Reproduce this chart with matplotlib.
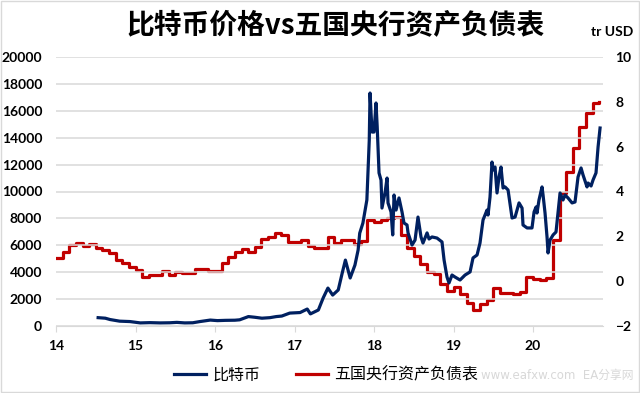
import matplotlib.pyplot as plt
from matplotlib.patches import Rectangle

plt.rcParams['font.family'] = ['Lato', 'Noto Sans CJK SC', 'DejaVu Sans']

# Bitcoin price (USD), x in decimal years
btc_x = [2014.53, 2014.62, 2014.68, 2014.80, 2014.93, 2015.06, 2015.18, 2015.31, 2015.43, 2015.52,
         2015.62, 2015.72, 2015.81, 2015.94, 2016.03, 2016.13, 2016.25, 2016.31, 2016.42, 2016.50,
         2016.59, 2016.69, 2016.77, 2016.84, 2016.91, 2016.94, 2017.07, 2017.16, 2017.20, 2017.30,
         2017.36, 2017.42, 2017.48, 2017.55, 2017.60, 2017.64, 2017.70, 2017.76, 2017.80, 2017.82,
         2017.86, 2017.91, 2017.94, 2017.95, 2017.975, 2018.00, 2018.025, 2018.04, 2018.063, 2018.088,
         2018.10, 2018.14, 2018.164, 2018.176, 2018.214, 2018.235, 2018.252, 2018.277, 2018.314, 2018.352,
         2018.377, 2018.415, 2018.428, 2018.478, 2018.516, 2018.553, 2018.591, 2018.616, 2018.667, 2018.692,
         2018.73, 2018.792, 2018.855, 2018.881, 2018.918, 2018.943, 2018.981, 2019.019, 2019.082, 2019.145,
         2019.208, 2019.245, 2019.296, 2019.333, 2019.371, 2019.421, 2019.434, 2019.459, 2019.484, 2019.497,
         2019.522, 2019.547, 2019.572, 2019.597, 2019.623, 2019.648, 2019.686, 2019.736, 2019.774, 2019.824,
         2019.862, 2019.874, 2019.925, 2019.987, 2020.013, 2020.038, 2020.05, 2020.075, 2020.113, 2020.126,
         2020.151, 2020.176, 2020.189, 2020.214, 2020.252, 2020.289, 2020.314, 2020.34, 2020.377, 2020.403,
         2020.44, 2020.491, 2020.528, 2020.566, 2020.604, 2020.629, 2020.679, 2020.692, 2020.73, 2020.755,
         2020.792, 2020.818, 2020.843]
btc_price = [620, 580, 480, 360, 330, 230, 250, 230, 240, 270,
             230, 240, 330, 440, 400, 420, 430, 460, 700, 650,
             580, 620, 700, 740, 900, 960, 1000, 1260, 900, 1190,
             2080, 2820, 2300, 2680, 3940, 4900, 3570, 4530, 5650, 6900,
             7650, 9370, 13800, 17320, 14420, 14420, 16580, 14800, 11380, 10850,
             8770, 9960, 11000, 9150, 8480, 6770, 9740, 8620, 9520, 8480,
             7660, 7510, 6920, 6020, 6390, 8100, 6620, 6170, 6920, 6470,
             6620, 6540, 6250, 4910, 3640, 3200, 3790, 3640, 3420, 3790,
             4020, 5060, 5280, 6170, 7880, 8620, 8250, 9590, 12190, 11600,
             11820, 9890, 11080, 11820, 10260, 10340, 10110, 8030, 8100, 9150,
             8770, 7510, 7290, 7290, 8480, 8850, 8400, 9370, 10340, 9740,
             8400, 6620, 5430, 6390, 6770, 6990, 8400, 9890, 9370, 9740,
             9520, 9150, 9220, 11080, 11750, 11230, 10340, 10630, 10410, 10860,
             11380, 13310, 14720]

# Balance sheet of five central banks (tr USD), monthly from Jan 2014
cb_start = 2014
cb_value = [1.03, 1.30, 1.61, 1.70, 1.57, 1.66, 1.48, 1.39, 1.26, 0.94, 0.81, 0.63,
            0.50, 0.19, 0.27, 0.27, 0.45, 0.27, 0.41, 0.36, 0.36, 0.54, 0.54, 0.45,
            0.45, 0.81, 1.08, 1.30, 1.43, 1.30, 1.52, 1.88, 1.97, 2.15, 2.06, 1.75,
            1.75, 1.84, 1.57, 1.48, 1.48, 1.97, 1.70, 1.84, 1.84, 1.66, 1.79, 2.73,
            2.64, 2.73, 2.82, 2.86, 2.06, 1.48, 1.12, 0.77, 0.41, 0.32, -0.13, -0.44,
            -0.26, -0.57, -0.97, -1.29, -1.02, -0.84, -0.31, -0.53, -0.53, -0.57, -0.48, 0.19,
            0.10, 0.05, 0.14, 1.84, 3.93, 4.87, 5.94, 6.88, 7.50, 7.95, 7.99]
cb_x = [cb_start + i / 12 for i in range(len(cb_value))]

year_ticks = [2014, 2015, 2016, 2017, 2018, 2019, 2020]
year_labels = ['14', '15', '16', '17', '18', '19', '20']

navy = '#002060'
red = '#C00000'

fig = plt.figure(figsize=(6.4, 3.93), dpi=100)
ax = fig.add_axes([56 / 640, 1 - 326 / 393, 547 / 640, 269 / 393])
ax2 = ax.twinx()

ax.plot(btc_x, btc_price, color=navy, lw=2.3, zorder=3)
ax2.plot(cb_x, cb_value, color=red, lw=2.3, drawstyle='steps-post', zorder=2)
ax.set_zorder(ax2.get_zorder() + 1)
ax.patch.set_visible(False)

ax.set_xlim(2014, 2020.88)
ax.set_ylim(0, 20000)
ax.set_yticks(range(0, 20001, 2000))
ax2.set_ylim(-2, 10)
ax2.set_yticks(range(-2, 11, 2))
ax.set_xticks(year_ticks)
ax.set_xticklabels(year_labels)

ax.grid(axis='y', color='#D9D9D9', lw=1.1)
ax.set_axisbelow(True)
for a in (ax, ax2):
    for s in ('top', 'left', 'right'):
        a.spines[s].set_visible(False)
    a.spines['bottom'].set_color('#D9D9D9')
ax2.spines['bottom'].set_visible(False)

ax.tick_params(axis='y', length=0, pad=10, labelsize=10)
ax2.tick_params(axis='y', length=0, pad=9, labelsize=10)
ax.tick_params(axis='x', length=4, color='#D9D9D9', pad=6, labelsize=10)
for lab in ax.get_xticklabels() + ax.get_yticklabels() + ax2.get_yticklabels():
    lab.set_fontweight('bold')

fig.text(0.525, 0.933, '比特币价格vs五国央行资产负债表', ha='center', va='center',
         fontsize=20, fontweight='bold', family=['Noto Sans CJK SC'])
fig.text(0.99, 0.918, 'tr USD', ha='right', va='center', fontsize=10, fontweight='bold')

# legend
ax.plot([], [], color=navy, lw=2.3, label='比特币')
ax2.plot([], [], color=red, lw=2.3, label='五国央行资产负债表')
h1, l1 = ax.get_legend_handles_labels()
h2, l2 = ax2.get_legend_handles_labels()
fig.legend(h1 + h2, l1 + l2, loc='center', bbox_to_anchor=(0.51, 0.045), ncol=2,
           frameon=False, prop={'family': ['Noto Sans CJK SC'], 'size': 11.5},
           handlelength=2.0, columnspacing=2.2, handletextpad=0.4)

fig.text(0.99, 0.045, 'www.eafxw.com  EA分享网', ha='right', va='center',
         fontsize=8.5, color='#D8D8D8', family=['DejaVu Sans', 'Noto Sans CJK SC'])

fig.add_artist(Rectangle((0.001, 0.002), 0.997, 0.995, transform=fig.transFigure,
                         fill=False, edgecolor='#D9D9D9', lw=1))

fig.savefig('out.png', dpi=100)
